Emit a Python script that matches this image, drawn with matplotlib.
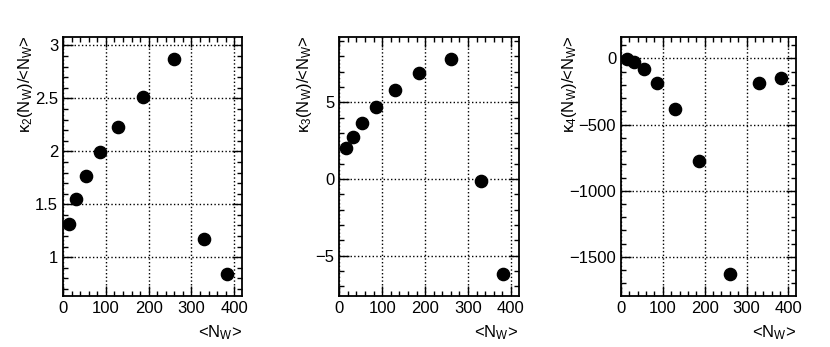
import matplotlib.pyplot as plt
from matplotlib.ticker import MultipleLocator, AutoMinorLocator, FuncFormatter

plt.rcParams['font.family'] = ['Liberation Sans', 'DejaVu Sans']
plt.rcParams['mathtext.fontset'] = 'custom'
plt.rcParams['mathtext.rm'] = 'Liberation Sans'
plt.rcParams['mathtext.it'] = 'Liberation Sans:italic'
plt.rcParams['mathtext.default'] = 'rm'

# mean number of wounded nucleons per centrality bin
n_w = [15, 31, 54, 86, 129, 186, 260, 330, 382]

# scaled cumulants
kappa2 = [1.31, 1.55, 1.77, 1.99, 2.23, 2.51, 2.87, 1.17, 0.84]
kappa3 = [2.03, 2.70, 3.62, 4.67, 5.77, 6.91, 7.82, -0.17, -6.23]
kappa4 = [-5, -25, -78, -184, -383, -775, -1631, -189, -148]

panels = [
    (kappa2, r'κ$_{2}$(N$_{W}$)/<N$_{W}$>', (0.634, 3.08), 0.5, 63, 242, 26),
    (kappa3, r'κ$_{3}$(N$_{W}$)/<N$_{W}$>', (-7.64, 9.25), 5, 339.3, 518.7, 304),
    (kappa4, r'κ$_{4}$(N$_{W}$)/<N$_{W}$>', (-1795, 162), 500, 621, 796, 569),
]

W, H = 830, 347
fs = 12
fig = plt.figure(figsize=(W / 100, H / 100), dpi=100)

fmt = FuncFormatter(lambda v, pos: ('%g' % v).replace('-', '\u2212'))

for vals, ylabel, ylim, ystep, left, right, labx in panels:
    ax = fig.add_axes([left / W, (H - 296) / H, (right - left) / W, (296 - 37) / H])
    ax.plot(n_w, vals, 'o', color='black', markersize=8.8, zorder=3)
    ax.set_xlim(0, 418)
    ax.set_ylim(*ylim)
    ax.xaxis.set_major_locator(MultipleLocator(100))
    ax.xaxis.set_minor_locator(AutoMinorLocator(5))
    ax.yaxis.set_major_locator(MultipleLocator(ystep))
    ax.yaxis.set_minor_locator(AutoMinorLocator(5))
    ax.yaxis.set_major_formatter(fmt)
    ax.tick_params(which='both', direction='in', top=True, right=True, labelsize=fs, width=1)
    ax.tick_params(which='major', length=7)
    ax.tick_params(which='minor', length=3.5)
    ax.grid(True, which='major', linestyle=':', color='black', linewidth=1)
    for sp in ax.spines.values():
        sp.set_linewidth(1.3)
    ax.set_xlabel(r'<N$_{W}$>', loc='right', fontsize=fs)
    ax.xaxis.set_label_coords(1.0, -0.105)
    ax.set_ylabel(ylabel, loc='top', fontsize=fs, va='center')
    ax.yaxis.set_label_coords((labx - left) / (right - left), 1.008)

plt.savefig('out.png', dpi=100)
